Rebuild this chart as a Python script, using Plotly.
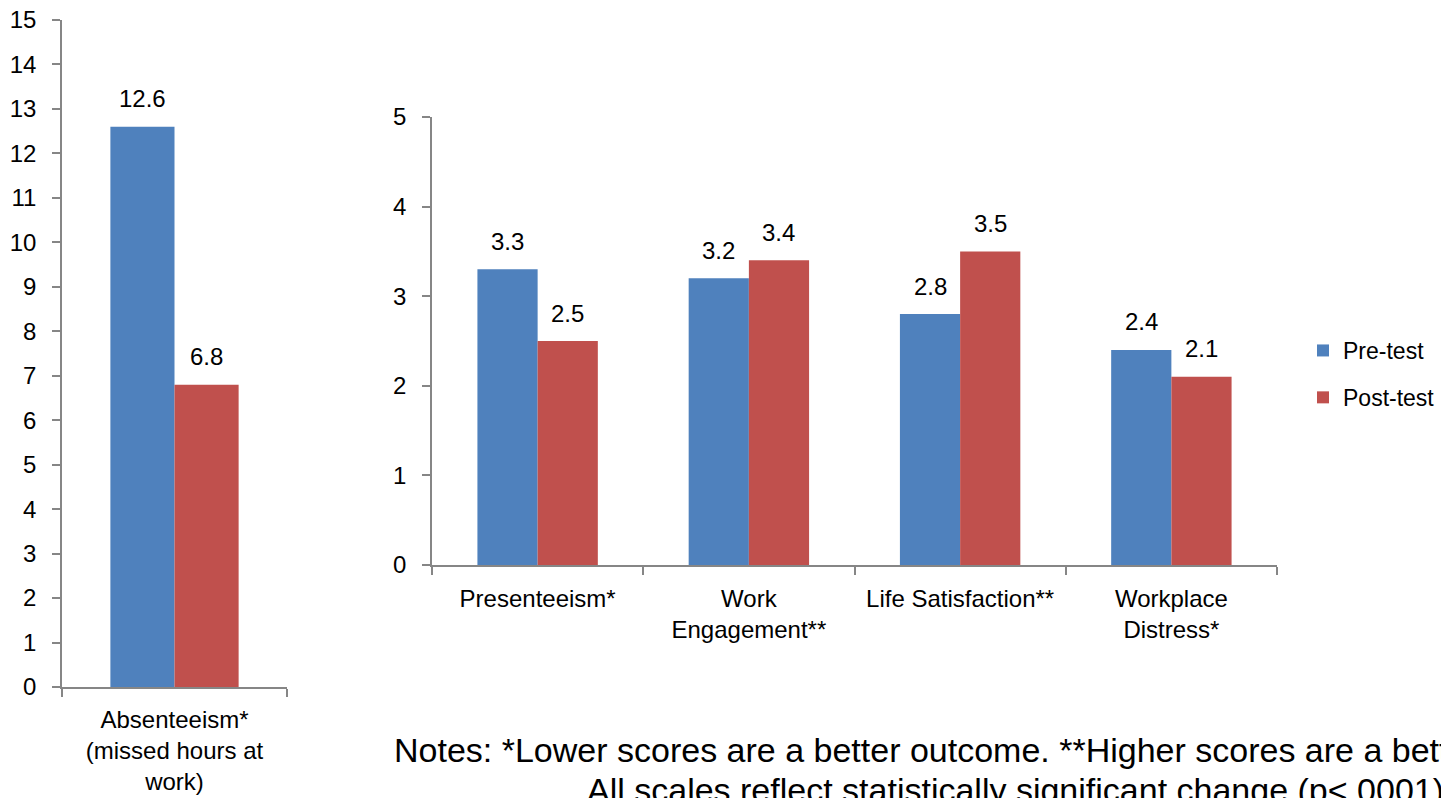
import plotly.graph_objects as go

W, H = 1441, 798

# Data
left_categories = ["Absenteeism*<br>(missed hours at<br>work)"]
left_pre = [12.6]
left_post = [6.8]

right_categories = ["Presenteeism*", "Work<br>Engagement**", "Life Satisfaction**", "Workplace<br>Distress*"]
right_pre = [3.3, 3.2, 2.8, 2.4]
right_post = [2.5, 3.4, 3.5, 2.1]

series_names = ["Pre-test", "Post-test"]
colors = ["#4F81BD", "#C0504D"]

left_ticks = list(range(0, 16))
right_ticks = list(range(0, 6))

note_line1 = "Notes: *Lower scores are a better outcome. **Higher scores are a better outcome."
note_line2 = "All scales reflect statistically significant change (p<.0001)."

FONT = "Liberation Sans, Arial, sans-serif"
AXIS_GRAY = "#868686"
LBL = 24
BARGAP = 0.43

# plot-area geometry (pixels)
L_X0, L_X1, L_Y0, L_Y1 = 62, 287, 687, 20
R_X0, R_X1, R_Y0, R_Y1 = 432, 1277, 565, 117


def px_x(x):
    return x / W


def px_y(y):
    return (H - y) / H


fig = go.Figure()

for name, vals, col in zip(series_names, [left_pre, left_post], colors):
    fig.add_trace(go.Bar(
        x=left_categories, y=vals, name=name, marker_color=col, marker_line_width=0,
        xaxis="x", yaxis="y", showlegend=False, legendgroup=name,
    ))

for name, vals, col in zip(series_names, [right_pre, right_post], colors):
    fig.add_trace(go.Bar(
        x=right_categories, y=vals, name=name, marker_color=col, marker_line_width=0,
        xaxis="x2", yaxis="y2", showlegend=True, legendgroup=name,
    ))

# value labels placed over each bar (data coordinates; shifted by half a bar width)
annotations = []
for cats, series, xr, yr, span in [
    (left_categories, [left_pre, left_post], "x", "y", L_X1 - L_X0),
    (right_categories, [right_pre, right_post], "x2", "y2", R_X1 - R_X0),
]:
    cat_w = span / len(cats)
    bar_w = cat_w * (1 - BARGAP) / len(series)
    for si, vals in enumerate(series):
        shift = (si - (len(series) - 1) / 2) * bar_w
        for c, v in zip(cats, vals):
            annotations.append(dict(
                x=c, y=v, xref=xr, yref=yr, text=f"{v:.1f}", showarrow=False,
                xshift=shift, yshift=28, xanchor="center", yanchor="middle",
                font=dict(size=LBL, color="#000000", family=FONT),
            ))

note_font = dict(size=34, color="#000000", family="Liberation Sans Narrow, Arial Narrow, Liberation Sans")
annotations += [
    dict(text=note_line1, x=px_x(392), y=px_y(750), xref="paper", yref="paper",
         xanchor="left", yanchor="middle", showarrow=False, font=note_font),
    dict(text=note_line2, x=px_x(585), y=px_y(790), xref="paper", yref="paper",
         xanchor="left", yanchor="middle", showarrow=False, font=note_font),
]

axis_common = dict(
    showgrid=False, zeroline=False, showline=True, linecolor=AXIS_GRAY, linewidth=1.5,
    ticks="outside", ticklen=8, tickcolor=AXIS_GRAY, tickwidth=1.5, automargin=False,
    tickfont=dict(size=LBL, color="#000000", family=FONT),
)

fig.update_layout(
    width=W, height=H, autosize=False,
    margin=dict(l=0, r=0, t=0, b=0, autoexpand=False),
    paper_bgcolor="white", plot_bgcolor="white",
    font=dict(family=FONT, size=LBL, color="#000000"),
    barmode="group", bargap=BARGAP, bargroupgap=0,
    xaxis=dict(domain=[px_x(L_X0), px_x(L_X1)], anchor="y", tickson="boundaries",
               ticklabelstandoff=10, **axis_common),
    yaxis=dict(domain=[px_y(L_Y0), px_y(L_Y1)], anchor="x", range=[0, 15], tickvals=left_ticks,
               ticklabelstandoff=11, **axis_common),
    xaxis2=dict(domain=[px_x(R_X0), px_x(R_X1)], anchor="y2", tickson="boundaries",
                ticklabelstandoff=11, **axis_common),
    yaxis2=dict(domain=[px_y(R_Y0), px_y(R_Y1)], anchor="x2", range=[0, 5], tickvals=right_ticks,
                ticklabelstandoff=11, **axis_common),
    legend=dict(x=px_x(1303), y=px_y(329), xanchor="left", yanchor="top",
                font=dict(size=23, color="#000000", family=FONT),
                traceorder="grouped", tracegroupgap=14, bgcolor="rgba(0,0,0,0)"),
    annotations=annotations,
)

fig.write_html("out.html")
